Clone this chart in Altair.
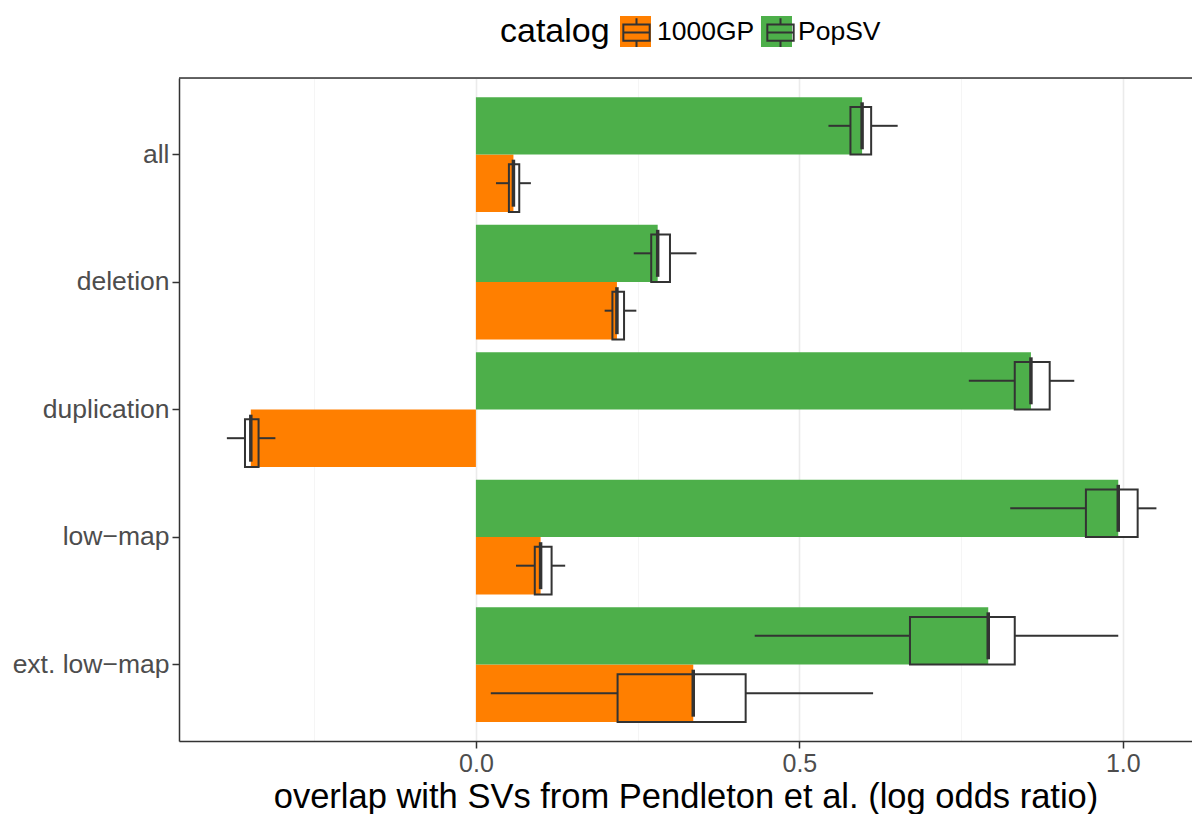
import altair as alt
import pandas as pd

# ---- data -----------------------------------------------------------------
categories = ["all", "deletion", "duplication", "low\u2212map", "ext. low\u2212map"]
catalogs = ["1000GP", "PopSV"]
stack_order = ["PopSV", "1000GP"]

# 1000GP: median, box (q1/q3) and whisker ends, per category
gp_median = [0.058, 0.218, -0.348, 0.100, 0.336]
gp_q1 = [0.051, 0.211, -0.357, 0.091, 0.219]
gp_q3 = [0.067, 0.229, -0.336, 0.117, 0.417]
gp_lo = [0.031, 0.199, -0.385, 0.062, 0.023]
gp_hi = [0.085, 0.248, -0.310, 0.138, 0.614]

# PopSV
sv_median = [0.597, 0.281, 0.858, 0.993, 0.792]
sv_q1 = [0.579, 0.271, 0.833, 0.943, 0.671]
sv_q3 = [0.611, 0.300, 0.887, 1.023, 0.833]
sv_lo = [0.545, 0.244, 0.762, 0.826, 0.431]
sv_hi = [0.652, 0.341, 0.925, 1.052, 0.993]

x_ticks = [-0.25, 0.0, 0.25, 0.5, 0.75, 1.0]
x_range = [-0.459, 1.107]

rows = []
for cat, med, q1, q3, lo, hi in [
    ("1000GP", gp_median, gp_q1, gp_q3, gp_lo, gp_hi),
    ("PopSV", sv_median, sv_q1, sv_q3, sv_lo, sv_hi),
]:
    for i, c in enumerate(categories):
        rows.append(dict(catalog=cat, catalog2=cat, category=c, median=med[i],
                         q1=q1[i], q3=q3[i], lo=lo[i], hi=hi[i]))
df = pd.DataFrame(rows)

# ---- styling ----------------------------------------------------------------
FONT = "Liberation Sans"
DARK = "#333333"
GREY = "#4D4D4D"
colors = ["#FF7F00", "#4DAF4A"]
W, H = 1013, 663
LW = 2.0

box_glyph = "M-0.85,-0.53H0.85V0.53H-0.85Z M-0.85,0H0.85 M0,-0.53V-0.92 M0,0.53V0.92"

major = "abs(datum.value % 0.5) < 1e-9"
x_axis = alt.Axis(
    values=x_ticks,
    labelExpr=f"{major} ? format(datum.value, '.1f') : ''",
    title="overlap with SVs from Pendleton et al. (log odds ratio)",
    titleFontSize=34.5, titleFont=FONT, titleColor="black", titleFontWeight="normal",
    titlePadding=4,
    labelFontSize=25, labelFont=FONT, labelColor=GREY, labelPadding=3,
    tickSize=7, tickColor=DARK, tickWidth=1.5,
    tickOpacity={"condition": {"test": major, "value": 1}, "value": 0},
    gridColor={"condition": {"test": major, "value": "#EBEBEB"}, "value": "#F5F5F5"},
    gridWidth={"condition": {"test": major, "value": 1.6}, "value": 1.0},
    domainColor=DARK, domainWidth=1.5,
)
y_axis = alt.Axis(
    title=None, labelFontSize=26.5, labelFont=FONT, labelColor=GREY, labelPadding=3,
    tickSize=7, tickColor=DARK, tickWidth=1.5, bandPosition=0.5,
    gridColor="#EBEBEB", gridWidth=1.6, domainColor=DARK, domainWidth=1.5,
)

y_enc = alt.Y("category:N", sort=categories,
              scale=alt.Scale(domain=categories, paddingInner=0.1, paddingOuter=0.15),
              axis=y_axis)
yoff_enc = alt.YOffset("catalog:N", sort=stack_order,
                       scale=alt.Scale(domain=stack_order, paddingInner=0, paddingOuter=0))
x_scale = alt.Scale(domain=x_range, nice=False, zero=False)

LEG_X, LEG_Y = 321, -62
TITLE_SIZE, LABEL_SIZE, SYM = 34, 26.5, 961

base = alt.Chart(df)

box_bg = base.mark_bar(fill="white", height={"band": 0.83}).encode(
    x=alt.X("q1:Q", scale=x_scale, axis=x_axis),
    x2="q3:Q", y=y_enc, yOffset=yoff_enc,
)

bars = base.mark_bar(height={"band": 1}).encode(
    x=alt.X("median:Q", scale=x_scale, axis=x_axis),
    y=y_enc, yOffset=yoff_enc,
    fill=alt.Fill("catalog:N", scale=alt.Scale(domain=catalogs, range=colors),
                  legend=alt.Legend(
                      orient="none", legendX=LEG_X, legendY=LEG_Y, direction="horizontal",
                      title="catalog", titleOrient="left", titleFontSize=TITLE_SIZE,
                      titleFont=FONT, titleFontWeight="normal", titlePadding=10,
                      titleAnchor="middle", titleColor="black",
                      labelFontSize=LABEL_SIZE, labelFont=FONT, labelColor="black",
                      labelOffset=6, columnPadding=6,
                      symbolType="square", symbolSize=SYM, symbolStrokeWidth=0)),
)

# box outlines; their legend (labels left empty) draws the box glyph over the colour keys
box_outline = base.mark_bar(fill="transparent", strokeWidth=LW,
                            height={"band": 0.83}).encode(
    x=alt.X("q1:Q", scale=x_scale, axis=x_axis),
    x2="q3:Q", y=y_enc, yOffset=yoff_enc,
    stroke=alt.Stroke("catalog2:N", scale=alt.Scale(range=[DARK, DARK]),
                      legend=alt.Legend(
                          orient="none", legendX=LEG_X + 120, legendY=LEG_Y,
                          direction="horizontal", title=None,
                          labelExpr="''", labelOffset=0, columnPadding=109,
                          symbolType=box_glyph, symbolSize=SYM,
                          symbolFillColor="transparent", symbolStrokeColor=DARK,
                          symbolStrokeWidth=2)),
)

median_tick = base.mark_tick(color=DARK, size=47, thickness=3.5, opacity=1).encode(
    x=alt.X("median:Q", scale=x_scale, axis=x_axis),
    y=y_enc, yOffset=yoff_enc,
)

whisker_lo = base.mark_rule(color=DARK, strokeWidth=LW).encode(
    x=alt.X("lo:Q", scale=x_scale, axis=x_axis), x2="q1:Q", y=y_enc, yOffset=yoff_enc,
)
whisker_hi = base.mark_rule(color=DARK, strokeWidth=LW).encode(
    x=alt.X("q3:Q", scale=x_scale, axis=x_axis), x2="hi:Q", y=y_enc, yOffset=yoff_enc,
)

# panel's top edge
top_edge = alt.Chart(pd.DataFrame({"k": [0]})).mark_rule(color=DARK, strokeWidth=1.5).encode(
    x=alt.value(0), x2=alt.value(W), y=alt.value(0),
)

chart = alt.layer(box_bg, bars, box_outline, whisker_lo, whisker_hi, median_tick, top_edge).properties(
    width=W, height=H,
    autosize=alt.AutoSizeParams(type="none"),
    padding={"left": 179, "top": 78, "right": 0, "bottom": 73},
).configure_view(stroke="transparent").configure(background="white")

chart.save("out.html", embed_options={"renderer": "svg", "actions": False})
